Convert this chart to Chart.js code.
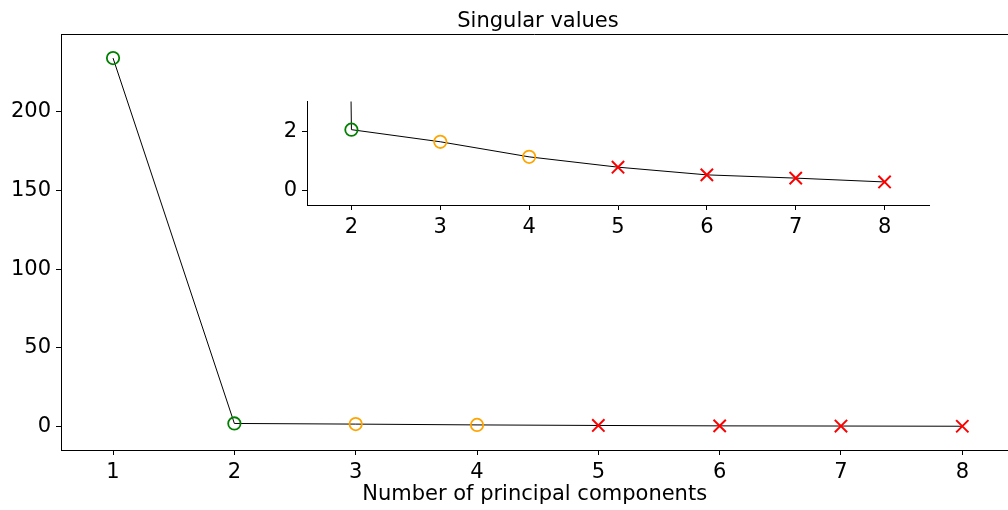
<!DOCTYPE html>
<html>
<head>
<meta charset="utf-8">
<script src="https://cdn.jsdelivr.net/npm/chart.js@4.4.1/dist/chart.umd.min.js"></script>
<style>
  body { margin: 0; background: #fff; overflow: hidden; }
  #wrap { position: relative; width: 1008px; height: 510px; overflow: hidden; }
  #mainChart { position: absolute; left: 0; top: 0; }
  #insetChart { position: absolute; left: 250px; top: 84px; }
</style>
</head>
<body>
<div id="wrap">
  <canvas id="mainChart" width="1019" height="510"></canvas>
  <canvas id="insetChart" width="690" height="156"></canvas>
</div>
<script>
const components = [1, 2, 3, 4, 5, 6, 7, 8];
const singularValues = [234.0, 2.05, 1.64, 1.13, 0.78, 0.52, 0.41, 0.28];
const markerColors = ['#008000', '#008000', '#ffa500', '#ffa500', '#ff0000', '#ff0000', '#ff0000', '#ff0000'];
const markerStyles = ['circle', 'circle', 'circle', 'circle', 'crossRot', 'crossRot', 'crossRot', 'crossRot'];

const mainXTicks = [1, 2, 3, 4, 5, 6, 7, 8];
const mainYTicks = [0, 50, 100, 150, 200];
const insetXTicks = [2, 3, 4, 5, 6, 7, 8];
const insetYTicks = [0, 2];

const FONT = { family: 'DejaVu Sans', size: 21 };
Chart.defaults.font.family = 'DejaVu Sans';
Chart.defaults.color = '#000';

const points = components.map((c, i) => ({ x: c, y: singularValues[i] }));

function makeDataset() {
  return {
    data: points,
    borderColor: '#000',
    borderWidth: 1,
    pointStyle: markerStyles,
    pointBorderColor: markerColors,
    pointBackgroundColor: 'rgba(0,0,0,0)',
    pointRadius: markerStyles.map(s => s === 'circle' ? 6.2 : 8.7),
    pointBorderWidth: markerStyles.map(s => s === 'circle' ? 1.8 : 2),
    tension: 0
  };
}

function axis(min, max, ticks, extra) {
  return Object.assign({
    type: 'linear',
    min: min,
    max: max,
    afterBuildTicks: s => { s.ticks = ticks.map(v => ({ value: v })); },
    ticks: { font: FONT, color: '#000', padding: 5, maxRotation: 0, autoSkip: false },
    grid: { drawOnChartArea: false, drawTicks: true, tickLength: 5, color: '#000', lineWidth: 1 },
    border: { display: true, color: '#000', width: 1 }
  }, extra);
}

// title + top spine for the main axes
const mainDecor = {
  id: 'mainDecor',
  afterDraw(chart) {
    const { ctx, chartArea } = chart;
    ctx.save();
    ctx.strokeStyle = '#000';
    ctx.lineWidth = 1;
    ctx.beginPath();
    ctx.moveTo(chartArea.left, chartArea.top + 0.5);
    ctx.lineTo(chartArea.right, chartArea.top + 0.5);
    ctx.stroke();
    ctx.fillStyle = '#000';
    ctx.font = '21px "DejaVu Sans"';
    ctx.textAlign = 'center';
    ctx.textBaseline = 'alphabetic';
    ctx.fillText('Singular values', 538, 26.5);
    ctx.restore();
  }
};

new Chart(document.getElementById('mainChart'), {
  type: 'line',
  data: { datasets: [makeDataset()] },
  options: {
    responsive: false,
    animation: false,
    layout: { padding: { top: 34, right: 0, left: 0, bottom: 0 } },
    plugins: { legend: { display: false }, tooltip: { enabled: false } },
    scales: {
      x: axis(0.571, 8.379, mainXTicks, {
        afterFit: s => { s.height = 60; },
        title: { display: true, text: 'Number of principal components', font: FONT, color: '#000', padding: { top: 0, bottom: 3 } }
      }),
      y: axis(-14.8, 249.3, mainYTicks, {
        afterFit: s => { s.width = 61; }
      })
    }
  },
  plugins: [mainDecor]
});

const whiteBg = {
  id: 'whiteBg',
  beforeDraw(chart) {
    const { ctx, chartArea } = chart;
    ctx.save();
    ctx.fillStyle = '#fff';
    ctx.fillRect(chartArea.left, chartArea.top, chartArea.right - chartArea.left, chartArea.bottom - chartArea.top);
    ctx.restore();
  }
};

new Chart(document.getElementById('insetChart'), {
  type: 'line',
  data: { datasets: [makeDataset()] },
  options: {
    responsive: false,
    animation: false,
    layout: { padding: { top: 10, right: 11, left: 0, bottom: 0 } },
    plugins: { legend: { display: false }, tooltip: { enabled: false } },
    scales: {
      x: axis(1.5, 8.5, insetXTicks, {
        afterFit: s => { s.height = 35; }
      }),
      y: axis(-0.5, 3, insetYTicks, {
        afterFit: s => { s.width = 57; }
      })
    }
  },
  plugins: [whiteBg]
});
</script>
</body>
</html>
